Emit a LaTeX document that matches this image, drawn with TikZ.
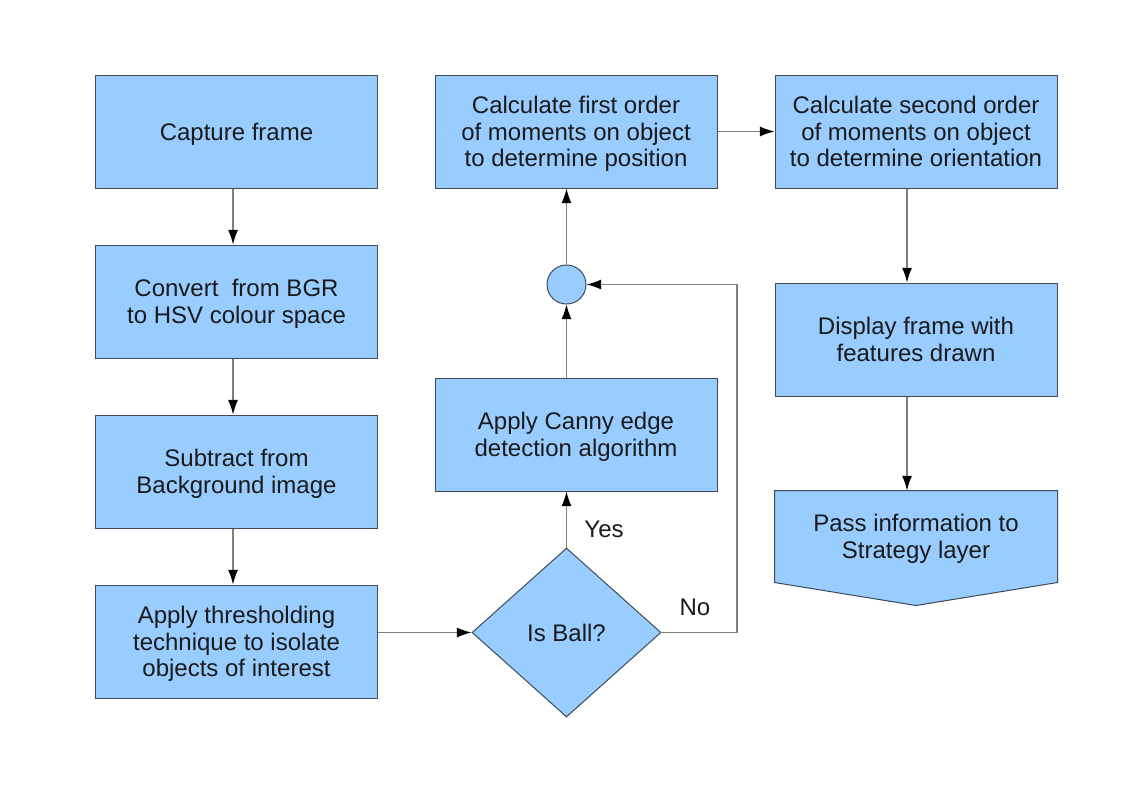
\documentclass[tikz,border=0pt]{standalone}
\usepackage{fontspec}
\setmainfont{Liberation Sans}
\usetikzlibrary{shapes.geometric,arrows.meta,backgrounds}
\definecolor{boxblue}{HTML}{99CCFF}
\definecolor{boxedge}{HTML}{3E4A59}
\definecolor{flowgray}{HTML}{7F7F7F}
\definecolor{ink}{HTML}{1A1A1A}
\newcommand{\boxfont}{\fontsize{18}{20}\selectfont}

\begin{document}
\begin{tikzpicture}[x=0.75pt,y=-0.75pt]
    \tikzstyle{proc}=[rectangle,draw=boxedge,fill=boxblue,line width=0.75pt,minimum width=211.5pt,minimum height=84.75pt,align=center,text depth=0pt,text=ink,font=\boxfont]
    \tikzstyle{decide}=[diamond,draw=boxedge,fill=boxblue,line width=0.75pt,minimum width=141.75pt,minimum height=126.75pt,inner sep=0pt,text=ink,font=\boxfont]
    \tikzstyle{junction}=[circle,draw=boxedge,fill=boxblue,line width=0.75pt,minimum size=29.25pt,inner sep=0pt]
    \tikzstyle{flow}=[draw=flowgray,line width=0.9pt,-{Latex[color=black,length=11pt,width=7.5pt]}]
    \tikzstyle{lbl}=[text=ink,font=\boxfont]
    \useasboundingbox (0,0) rectangle (1123,794);
    % left column
    \node[proc] at (236.5,131.5) (cap) {Capture frame};
    \node[proc] at (236.5,301.5) (conv) {Convert~ from BGR\\to HSV colour space};
    \node[proc] at (236.5,471.5) (sub) {Subtract from\\Background image};
    \node[proc] at (236.5,641.5) (thr) {Apply thresholding\\technique to isolate\\objects of interest};
    \foreach \i/\j in {cap/conv,conv/sub,sub/thr}{
      \draw[flow] ([xshift=-2.6pt]\i.south) -- ([xshift=-2.6pt]\j.north);
    }
    % middle column
    \node[decide] at (566.5,632.5) (ball) {Is Ball?};
    \node[proc] at (576,434.5) (canny) {Apply Canny edge\\detection algorithm};
    \node[junction] at (566.5,284.5) (join) {};
    \node[proc] at (576,131.5) (first) {Calculate first order\\of moments on object\\to determine position};
    \draw[flow] (thr.east |- ball.west) -- (ball.west);
    \draw[flow] (ball.north) -- (ball.north |- canny.south);
    \node[lbl] at (604,529) (yes) {Yes};
    \coordinate (noturn) at (737,284.5);
    \draw[flow] (ball.east) -| (noturn) -- (join.east);
    \node[lbl] at (695,607) (no) {No};
    \draw[flow] (canny.north -| join) -- (join.south);
    \draw[flow] (join.north) -- (join.north |- first.south);
    % right column
    \node[proc] at (916,131.5) (second) {Calculate second order\\of moments on object\\to determine orientation};
    \node[proc] at (916,339.5) (disp) {Display frame with\\features drawn};
    \node[proc,draw=none,fill=none,minimum height=68.25pt] at (916,536.5) (pass) {Pass information to\\Strategy layer};
    \begin{scope}[on background layer]
      \filldraw[draw=boxedge,fill=boxblue,line width=0.75pt] (pass.north west) -- (pass.north east)
        -- (pass.south east) -- ([yshift=-17.25pt]pass.south) -- (pass.south west) -- cycle;
    \end{scope}
    \draw[flow] (first.east) -- (second.west);
    \foreach \i/\j in {second/disp,disp/pass}{
      \draw[flow] ([xshift=-6.75pt]\i.south) -- ([xshift=-6.75pt]\j.north);
    }
  \end{tikzpicture}
\end{document}
